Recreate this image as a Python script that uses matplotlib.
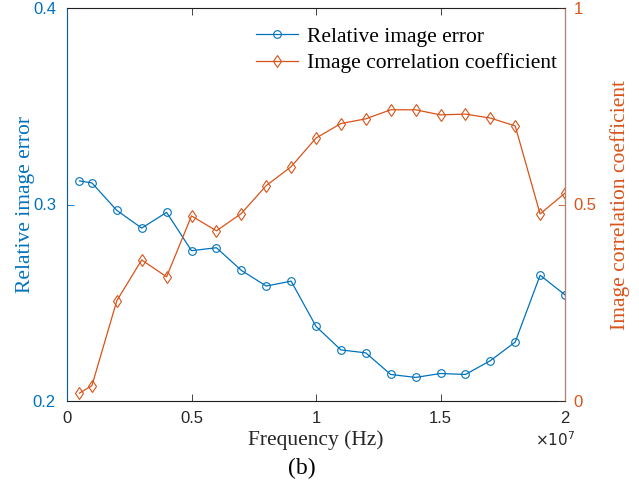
import numpy as np
import matplotlib.pyplot as plt

# data
freq = np.array([0.05, 0.1, 0.2, 0.3, 0.4, 0.5, 0.6, 0.7, 0.8, 0.9, 1.0,
                 1.1, 1.2, 1.3, 1.4, 1.5, 1.6, 1.7, 1.8, 1.9, 2.0]) * 1e7
rel_err = [0.312, 0.311, 0.297, 0.288, 0.296, 0.2765, 0.278, 0.2665, 0.2585, 0.261, 0.238,
           0.226, 0.2245, 0.2135, 0.212, 0.214, 0.2135, 0.2205, 0.230, 0.264, 0.254]
corr = [0.020, 0.039, 0.255, 0.359, 0.316, 0.471, 0.433, 0.477, 0.548, 0.596, 0.669,
        0.706, 0.718, 0.741, 0.741, 0.728, 0.730, 0.720, 0.700, 0.476, 0.529]
xticks = [0, 0.5e7, 1e7, 1.5e7, 2e7]
xtick_labels = ['0', '0.5', '1', '1.5', '2']

blue = '#0072BD'
orange = '#D95319'
sans = ['Liberation Sans', 'DejaVu Sans']
serif = ['Liberation Serif', 'DejaVu Serif']

fig = plt.figure(figsize=(6.39, 4.92), dpi=100)
ax = fig.add_axes([67/639, 1 - 401/492, 498/639, 393/492])
ax2 = ax.twinx()

l1, = ax.plot(freq, rel_err, color=blue, lw=0.9, marker='o', ms=5.5,
              mfc='none', mec=blue, mew=0.8, label='Relative image error')
l2, = ax2.plot(freq, corr, color=orange, lw=0.9, marker='d', ms=6,
               mfc='none', mec=orange, mew=0.8, label='Image correlation coefficient')

ax.set_xlim(0, 2e7)
ax.set_ylim(0.2, 0.4)
ax2.set_ylim(0, 1)
ax.set_xticks(xticks)
ax.set_xticklabels(xtick_labels, family=sans, fontsize=12)
ax.set_yticks([0.2, 0.3, 0.4])
ax.set_yticklabels(['0.2', '0.3', '0.4'], family=sans, fontsize=12)
ax2.set_yticks([0, 0.5, 1])
ax2.set_yticklabels(['0', '0.5', '1'], family=sans, fontsize=12)

ax.tick_params(axis='x', direction='in', top=True, length=5, colors='#262626', width=0.6, pad=7)
ax.tick_params(axis='y', direction='in', length=5, colors=blue, width=0.6, pad=8)
ax2.tick_params(axis='y', direction='in', length=5, colors=orange, width=0.6, pad=6)
for s in ['top', 'bottom']:
    ax2.spines[s].set_color('#262626')
    ax2.spines[s].set_linewidth(0.6)
ax2.spines['left'].set_color(blue)
ax2.spines['right'].set_color('#b0867a')
ax2.spines['left'].set_linewidth(0.6)
ax2.spines['right'].set_linewidth(0.8)

ax.set_xlabel('Frequency (Hz)', family=serif, fontsize=15.5, color='#262626', labelpad=3)
ax.set_ylabel('Relative image error', family=serif, fontsize=15.5, color=blue)
ax.yaxis.set_label_coords(-32/498, 0.5)
ax2.set_ylabel('Image correlation coefficient', family=serif, fontsize=15.5, color=orange)
ax2.yaxis.set_label_coords(1 + 45/498, 0.5)

fig.text(555/639, 1 - 440/492, r'$\times10^{7}$', fontsize=11, color='#262626',
         ha='center', va='center', family=sans)
fig.text(302/639, 1 - 468/492, '(b)', family=serif, fontsize=17, ha='center', va='center')

leg = ax.legend(handles=[l1, l2], loc='upper right', frameon=False,
                prop={'family': serif, 'size': 15.5}, handlelength=1.95,
                borderaxespad=0.2, labelspacing=0.3, handletextpad=0.4,
                bbox_to_anchor=(1.01, 0.985))

fig.savefig('out.png', dpi=100)
